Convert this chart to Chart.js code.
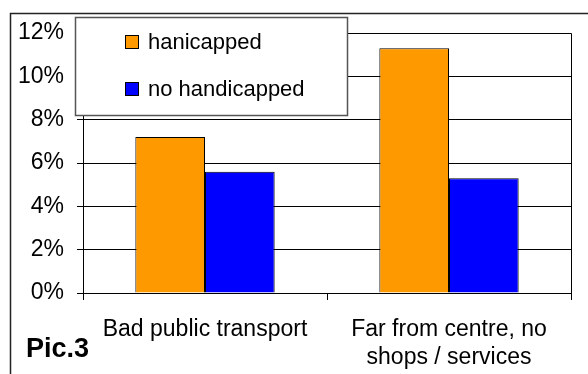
<!DOCTYPE html>
<html>
<head>
<meta charset="utf-8">
<script src="https://cdn.jsdelivr.net/npm/chart.js@4/dist/chart.umd.min.js"></script>
<style>
  html, body { margin: 0; padding: 0; background: #fff; }
  #wrap { width: 588px; height: 374px; }
</style>
</head>
<body>
<div id="wrap"><canvas id="c" width="588" height="374"></canvas></div>
<script>
// Share of respondents citing each problem, in percent
const categories = [['Bad public transport'], ['Far from centre, no', 'shops / services']];
const seriesNames = ['hanicapped', 'no handicapped'];
const handicapped = [7.2, 11.3];
const noHandicapped = [5.6, 5.3];
const yMax = 12;
const yStep = 2;
const caption = 'Pic.3';

const FONT = "'Liberation Sans', Arial, sans-serif";
const ORANGE = '#FF9900';
const BLUE = '#0000FF';

// Frame, plot border, boxed legend and caption
const decor = {
  id: 'decor',
  beforeDraw(chart) {
    const ctx = chart.ctx;
    ctx.save();
    ctx.fillStyle = '#fff';
    ctx.fillRect(0, 0, chart.width, chart.height);
    ctx.restore();
  },
  afterDraw(chart) {
    const ctx = chart.ctx;
    const a = chart.chartArea;
    ctx.save();
    // plot area border (top and right)
    ctx.strokeStyle = '#000';
    ctx.lineWidth = 1;
    ctx.beginPath();
    ctx.moveTo(Math.round(a.left) + 0.5, Math.round(a.top) + 0.5);
    ctx.lineTo(Math.round(a.right) + 0.5, Math.round(a.top) + 0.5);
    ctx.lineTo(Math.round(a.right) + 0.5, Math.round(a.bottom) + 0.5);
    ctx.stroke();

    // outer frame
    ctx.strokeStyle = '#222';
    ctx.lineWidth = 1.5;
    ctx.beginPath();
    ctx.moveTo(10.5, chart.height + 2);
    ctx.lineTo(10.5, 13.5);
    ctx.lineTo(chart.width + 2, 13.5);
    ctx.stroke();

    // legend box
    const lx = 75, ly = 17, lw = 272, lh = 98;
    ctx.fillStyle = '#fff';
    ctx.fillRect(lx, ly, lw, lh);
    ctx.strokeStyle = '#555';
    ctx.lineWidth = 1.5;
    ctx.strokeRect(lx + 0.5, ly + 0.5, lw, lh);

    ctx.font = '22px ' + FONT;
    ctx.textBaseline = 'middle';
    ctx.textAlign = 'left';
    chart.data.datasets.forEach((ds, i) => {
      const cy = 42 + i * 47;
      ctx.fillStyle = ds.backgroundColor;
      ctx.fillRect(125, cy - 7, 14, 14);
      ctx.strokeStyle = '#000';
      ctx.lineWidth = 1;
      ctx.strokeRect(125.5, cy - 6.5, 13, 13);
      ctx.fillStyle = '#000';
      ctx.fillText(ds.label, 148, cy + 1);
    });

    // caption
    ctx.font = 'bold 27px ' + FONT;
    ctx.textBaseline = 'alphabetic';
    ctx.fillStyle = '#000';
    ctx.fillText(caption, 26, 357);
    ctx.restore();
  }
};

new Chart(document.getElementById('c'), {
  type: 'bar',
  data: {
    labels: categories,
    datasets: [
      { label: seriesNames[0], data: handicapped, backgroundColor: ORANGE, borderColor: '#000', borderWidth: 1 },
      { label: seriesNames[1], data: noHandicapped, backgroundColor: BLUE, borderColor: '#000', borderWidth: 1 }
    ]
  },
  options: {
    responsive: false,
    animation: false,
    devicePixelRatio: 1,
    layout: { padding: { top: 33, right: 17, left: 0, bottom: 0 } },
    categoryPercentage: 0.571,
    barPercentage: 1.0,
    plugins: { legend: { display: false }, tooltip: { enabled: false } },
    scales: {
      x: {
        grid: { offset: true, drawOnChartArea: false, tickLength: 7, color: '#000' },
        border: { color: '#000' },
        ticks: { color: '#000', font: { family: FONT, size: 23, lineHeight: 1.22 }, padding: 16, maxRotation: 0 },
        afterFit(scale) { scale.height = 81; }
      },
      y: {
        min: 0, max: yMax,
        grid: { color: '#000', tickLength: 6 },
        border: { color: '#000' },
        ticks: { stepSize: yStep, color: '#000', font: { family: FONT, size: 23 }, padding: 13, callback: v => v + '%' },
        afterFit(scale) { scale.width = 83; }
      }
    }
  },
  plugins: [decor]
});
</script>
</body>
</html>
